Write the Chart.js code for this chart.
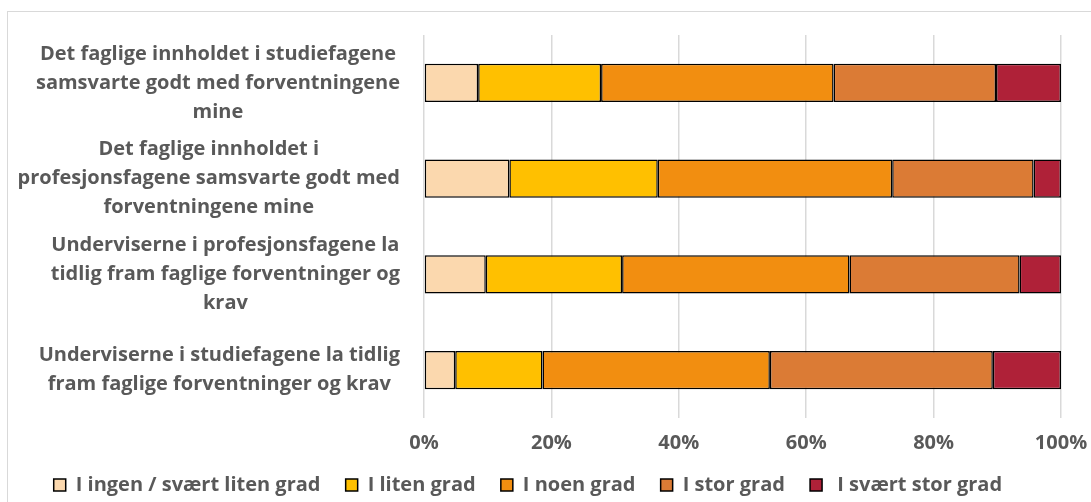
<!DOCTYPE html>
<html>
<head>
<meta charset="utf-8">
<script src="https://cdn.jsdelivr.net/npm/chart.js@4"></script>
<style>
  html, body { margin: 0; padding: 0; background: #fff; }
  #wrap { position: relative; width: 1091px; height: 502px; overflow: hidden; }
  #frame { position: absolute; left: 7px; top: 11px; width: 1200px; height: 600px;
           border-left: 1.5px solid #d9d9d9; border-top: 1.5px solid #d9d9d9; }
  canvas { position: absolute; left: 0; top: 0; }
</style>
</head>
<body>
<div id="wrap">
  <div id="frame"></div>
  <canvas id="chart" width="1091" height="505"></canvas>
</div>
<script>
// Kategorier (linjedelt som i originalen)
var categories = [
    ['Det faglige innholdet i studiefagene', 'samsvarte godt med forventningene', 'mine'],
    ['Det faglige innholdet i', 'profesjonsfagene samsvarte godt med', 'forventningene mine'],
    ['Underviserne i profesjonsfagene la', 'tidlig fram faglige forventninger og', 'krav'],
    ['Underviserne i studiefagene la tidlig', 'fram faglige forventninger og krav']
];

// Prosentandeler per svaralternativ
var ingen = [8.5, 13.4, 9.7, 4.9];
var liten = [19.3, 23.3, 21.4, 13.7];
var noen = [36.5, 36.8, 35.7, 35.7];
var stor = [25.5, 22.2, 26.7, 35.0];
var svaert = [10.2, 4.3, 6.5, 10.7];

var seriesNames = ['I ingen / svært liten grad', 'I liten grad', 'I noen grad', 'I stor grad', ' I svært stor grad'];
var xTicks = [0, 20, 40, 60, 80, 100];

var textColor = '#595959';
var fontFam = '"Open Sans", Lato, sans-serif';

// Tegner kategoritekstene sentrert per etikett
var yLabelPlugin = {
    id: 'yLabels',
    afterDraw: function (chart) {
        var ctx = chart.ctx;
        var yScale = chart.scales.y;
        ctx.save();
        ctx.font = 'bold 20px ' + fontFam;
        ctx.fillStyle = textColor;
        ctx.textAlign = 'center';
        ctx.textBaseline = 'middle';
        categories.forEach(function (lines, i) {
            var y = yScale.getPixelForValue(i);
            var widest = 0;
            lines.forEach(function (l) { widest = Math.max(widest, ctx.measureText(l).width); });
            var cx = 400 - widest / 2;
            lines.forEach(function (l, j) {
                ctx.fillText(l, cx, y + (j - (lines.length - 1) / 2) * 29);
            });
        });
        ctx.restore();
    }
};

var colors = ['#FBD8AE', '#FFC000', '#F28E10', '#DB7B35', '#AF2138'];
var seriesData = [ingen, liten, noen, stor, svaert];

var ctx = document.getElementById('chart').getContext('2d');
new Chart(ctx, {
    type: 'bar',
    data: {
        labels: categories.map(function (c) { return c.join(' '); }),
        datasets: seriesData.map(function (d, i) {
            return {
                label: seriesNames[i] + '\u00a0',
                data: d,
                backgroundColor: colors[i],
                borderColor: '#000',
                borderWidth: 1.5,
                borderSkipped: false,
                barPercentage: 0.4,
                categoryPercentage: 1
            };
        })
    },
    options: {
        indexAxis: 'y',
        responsive: false,
        animation: false,
        layout: { padding: { top: 35, right: 30, left: 0, bottom: 0 } },
        scales: {
            x: {
                stacked: true,
                min: 0,
                max: 100,
                afterBuildTicks: function (scale) {
                    scale.ticks = xTicks.map(function (v) { return { value: v }; });
                },
                grid: { color: '#d9d9d9', lineWidth: 1.5, drawTicks: true, tickLength: 13, tickColor: 'rgba(0,0,0,0)' },
                border: { display: false },
                ticks: {
                    padding: 0,
                    color: textColor,
                    font: { family: fontFam, size: 20, weight: 'bold' },
                    callback: function (v) { return v + '%'; }
                }
            },
            y: {
                stacked: true,
                grid: { display: false },
                border: { display: false },
                ticks: { display: false },
                afterFit: function (scale) { scale.width = 424; }
            }
        },
        plugins: {
            legend: {
                display: true,
                position: 'bottom',
                labels: {
                    boxWidth: 12,
                    boxHeight: 12,
                    padding: 20,
                    color: textColor,
                    font: { family: fontFam, size: 20, weight: 'bold' }
                }
            },
            tooltip: { enabled: false }
        }
    },
    plugins: [yLabelPlugin]
});
</script>
</body>
</html>
